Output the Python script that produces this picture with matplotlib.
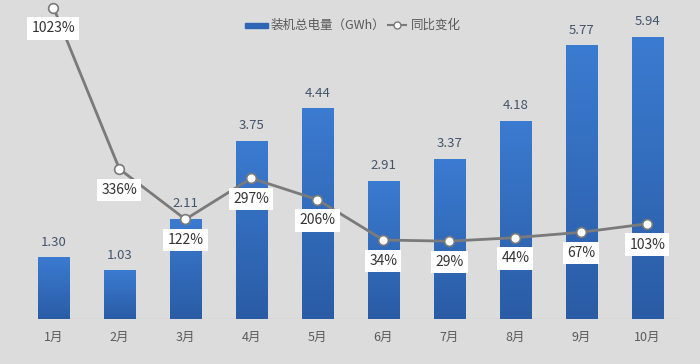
import matplotlib
matplotlib.use("Agg")
import matplotlib.pyplot as plt
import numpy as np
from matplotlib.lines import Line2D
from matplotlib.patches import Rectangle

plt.rcParams["font.family"] = ["Noto Sans CJK SC", "DejaVu Sans"]

months = ["1月", "2月", "3月", "4月", "5月", "6月", "7月", "8月", "9月", "10月"]
capacity = [1.30, 1.03, 2.11, 3.75, 4.44, 2.91, 3.37, 4.18, 5.77, 5.94]
yoy = [1023, 336, 122, 297, 206, 34, 29, 44, 67, 103]

bg = "#dcdcdc"
fig = plt.figure(figsize=(7, 3.64), dpi=100, facecolor=bg)
# axes spans from top of figure down to the baseline (y=319 px)
ax = fig.add_axes([0, 1 - 319 / 364, 1, 319 / 364])
ax.set_facecolor(bg)
ax2 = ax.twinx()

x = np.arange(len(months))

# gradient bars
grad = np.linspace(0, 1, 256).reshape(-1, 1)
cmap = matplotlib.colors.LinearSegmentedColormap.from_list("b", ["#2a5ca5", "#3b7bd1"])
bars = ax.bar(x, capacity, width=0.47, color="none", zorder=2)
for b in bars:
    x0, w, h = b.get_x(), b.get_width(), b.get_height()
    im = ax.imshow(grad, cmap=cmap, aspect="auto", origin="lower",
                   extent=[x0, x0 + w, 0, h], zorder=2)
    im.set_clip_path(b)
ax.set_xlim(-0.81, 9.80)
ax.set_ylim(0, 6.72)
ax2.set_ylim(-302, 1055)

for xi, v in zip(x, capacity):
    ax.text(xi, v + 0.18, f"{v:.2f}", ha="center", va="bottom",
            fontsize=9.5, color="#44546a", zorder=3)

ax.axhline(0, xmin=0.055, xmax=0.97, color="#c8c8c8", lw=1, zorder=1)

ax2.plot(x, yoy, color="#7a7a7a", lw=2, marker="o", ms=7,
         mfc="white", mec="#7a7a7a", mew=1.2, zorder=4)
for xi, v in zip(x, yoy):
    ax2.annotate(f"{v}%", (xi, v), xytext=(0, -15), textcoords="offset points",
                 ha="center", va="center", fontsize=10, color="#333333",
                 bbox=dict(boxstyle="square,pad=0.3", fc="white", ec="none"),
                 zorder=5)

for a in (ax, ax2):
    a.set_yticks([])
    a.set_xticks([])
    for s in a.spines.values():
        s.set_visible(False)

# month labels under the baseline
for xi, m in zip(x, months):
    ax.annotate(m, (xi, 0), xycoords=("data", "axes fraction"),
                xytext=(0, -13), textcoords="offset points",
                ha="center", va="center", fontsize=9, color="#5a5a5a",
                annotation_clip=False)

# legend
fig.patches.append(Rectangle((245 / 700, 1 - 28 / 364), 23 / 700, 5 / 364,
                             transform=fig.transFigure, color="#2e66b5"))
fig.text(271 / 700, 1 - 25 / 364, "装机总电量（GWh）", fontsize=9,
         color="#595959", va="center")
fig.lines.append(Line2D([388 / 700, 406 / 700], [1 - 25 / 364] * 2,
                        transform=fig.transFigure, color="#7a7a7a", lw=1.5))
fig.lines.append(Line2D([397 / 700], [1 - 25 / 364], transform=fig.transFigure,
                        marker="o", ms=5, mfc="white", mec="#7a7a7a"))
fig.text(411 / 700, 1 - 25 / 364, "同比变化", fontsize=9, color="#595959",
         va="center")

fig.savefig("out.png", dpi=100, facecolor=bg)
